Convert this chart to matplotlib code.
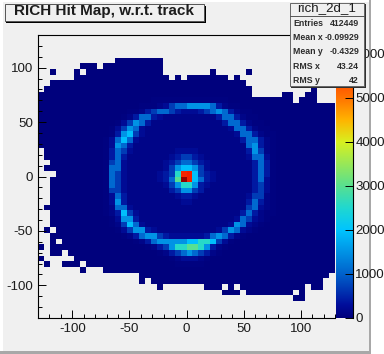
import numpy as np
import matplotlib
matplotlib.use("Agg")
import matplotlib.pyplot as plt
from matplotlib.colors import LinearSegmentedColormap
from matplotlib.patches import Rectangle

plt.rcParams['font.family'] = ['Liberation Sans', 'DejaVu Sans']
plt.rcParams['axes.unicode_minus'] = False

TITLE = "RICH Hit Map, w.r.t. track"
STATS_NAME = "rich_2d_1"
STATS_LABELS = ["Entries", "Mean x", "Mean y", "RMS x", "RMS y"]
STATS_VALUES = ["412449", "-0.09929", "-0.4329", "43.24", "42"]
X_RANGE = [-130, 130]
Y_RANGE = [-130, 130]
Z_MAX = 6430
X_MAJOR = [-100, -50, 0, 50, 100]
Y_MAJOR = [-100, -50, 0, 50, 100]
Z_MAJOR = [0, 1000, 2000, 3000, 4000, 5000, 6000]

# letter -> estimated bin content
LEVELS = dict(zip(".abcdefghijklmno",
                  [0, 15, 50, 120, 230, 400, 680, 1080, 1500, 1950, 2550,
                   3000, 3600, 5700, 5750, 6300]))

# 50 x 50 bins, top row first
ROWS = [
    "", "", "", "",
    "."*13+"a"*8,
    "."*7+"aaa."+"a"*10,
    "..a...a."+"a"*13+"."*8+"a"+"."*5+"a",
    "."*6+"a"*16+".a."+"a"*7+".a",
    ".."+"a"*33,
    "."+"a"*35+"."*10+"a",
    "a"*36+"."*5+"aa..aa",
    "a"*19+"b"*13+"a"*11+".aaa",
    "a"*17+"bbb"+"cdfgghhhhgec"+"bb"+"a"*16,
    "a"*15+"bb"+"cefggfedddefghgecbb"+"a"*14,
    "a"*14+"bceggedccccccccc"+"eggecbb"+"a"*13,
    "a"*13+"bdfhgec"+"c"*11+"e"+"gg"+"ecbb"+"a"*12,
    "a"*12+"bdfhgdc"+"c"*13+"dggecbb"+"a"*11,
    "a"*12+"behifd"+"c"*15+"dggecbb"+"a"*10,
    "a"*11+"bdgigd"+"c"*17+"eggecb"+"a"*10,
    "a"*11+"bdhgec"+"c"*18+"ghecb"+"a"*10,
    "."+"a"*10+"begfd"+"c"*7+"dddd"+"c"*8+"ehfcb"+"a"*10,
    "."+"a"*10+"begec"+"c"*6+"deffed"+"c"*7+"dggdb"+"a"*10,
    ".."+"a"*9+"bfgdc"+"c"*5+"defggfed"+"c"*7+"egeb"+"a"*10,
    "."+"a"*10+"bggdc"+"c"*5+"dfhiihfd"+"c"*7+"egeb"+"a"*10,
    "..."+"a"*8+"bgfdc"+"c"*4+"defjmnifed"+"c"*6+"egeb"+"a"*10,
    ".."+"a"*9+"bgfdc"+"c"*4+"degkoniged"+"c"*6+"egdb"+"a"*10,
    ".."+"a"*9+"bgfdc"+"c"*4+"cdfhjjhedc"+"c"*6+"efdb"+"a"*10,
    ".."+"a"*9+"bffdc"+"c"*6+"efhhfe"+"c"*8+"efdb"+"a"*10,
    ".."+"a"*9+"bdgec"+"c"*7+"deed"+"c"*8+"dffcb"+"a"*10,
    ".."+"a"*9+"bdhec"+"c"*7+"cddc"+"c"*8+"egecb"+"a"*10,
    "."+"a"*10+"bcggd"+"c"*19+"fgdcb"+"a"*10,
    ".."+"a"*9+"bceifd"+"c"*17+"egecbb"+"a"*10,
    ".."+"a"*10+"bdhhec"+"c"*15+"dgfdcb"+"a"*11,
    ".."+"a"*10+"bcfigd"+"c"*14+"dhgdcb"+"a"*12,
    ".a."+"a"*10+"bdfhhed"+"c"*10+"dfhgdcb"+"a"*13,
    ".."+"a"*12+"bceghhfe"+"d"*6+"eghgecb"+"a"*15,
    "..a."+"a"*12+"bceghhhhhiijjifdb"+"a"*17,
    "a."+"a"*16+"bcefhjjkkjhecb"+"a"*18,
    "..aa."+"a"*15+"bcefghgfecb"+"a"*19,
    "a....."+"a"*16+"bcdddcb"+"a"*21,
    ".a..aaa."+"a"*15+"b"*5+"a"*22,
    "."*7+"a..."+"a"*39,
    "."*17+"a"*32,
    "."*17+"a."+"a"*29,
    "."*20+"a"+"."*7+"aaa.a."+"a"*11+".aa",
    "."*31+"aaa."+"a"*8+".a",
    "."*43+"aa",
    "", "", "",
]

counts = np.array([[LEVELS[ch] for ch in row.ljust(50, ".")[:50]] for row in ROWS[::-1]], float)
counts = np.ma.masked_equal(counts, 0)

stops = [(0, "#00007c"), (300, "#000e9c"), (1000, "#0062cc"), (2000, "#00c4ff"),
         (2500, "#20d8d0"), (3000, "#58e090"), (3500, "#98e858"), (4000, "#d8f020"),
         (4500, "#ffb400"), (5000, "#ff7400"), (5600, "#ff3400"), (5950, "#dd0000"),
         (Z_MAX, "#7c0000")]
cmap = LinearSegmentedColormap.from_list("root", [(v / Z_MAX, c) for v, c in stops], N=512)
cmap.set_bad((0, 0, 0, 0))

W, H = 384, 354
fig = plt.figure(figsize=(W / 100, H / 100), dpi=100, facecolor="white")


def box(x0, y0, x1, y1):
    return [x0 / W, 1 - y1 / H, (x1 - x0) / W, (y1 - y0) / H]


TXT = "#1c1c1c"
bg = fig.add_axes([0, 0, 1, 1], zorder=0)
bg.set_xlim(0, W); bg.set_ylim(H, 0); bg.axis("off")
bg.add_patch(Rectangle((3, 2), 366, 349, fc="#f0f0f0", ec="none"))
bg.add_patch(Rectangle((369, 0), 2, 353, fc="#a8a8a8", ec="none"))
bg.add_patch(Rectangle((0, 351), 371, 3, fc="#a8a8a8", ec="none"))

ax = fig.add_axes(box(38, 35, 335, 318), zorder=1, facecolor="none")
xe = np.linspace(X_RANGE[0], X_RANGE[1], 51)
ye = np.linspace(Y_RANGE[0], Y_RANGE[1], 51)
ax.pcolormesh(xe, ye, counts, cmap=cmap, vmin=0, vmax=Z_MAX, antialiased=False, linewidth=0)
ax.set_xlim(X_RANGE); ax.set_ylim(Y_RANGE)
ax.set_xticks(X_MAJOR); ax.set_yticks(Y_MAJOR)
ax.set_xticks(np.arange(-130, 131, 10), minor=True)
ax.set_yticks(np.arange(-130, 131, 10), minor=True)
ax.tick_params(which="major", direction="in", length=5.8, width=0.7, labelsize=9.6,
               labelcolor=TXT, pad=3.5)
ax.tick_params(which="minor", direction="in", length=2.9, width=0.7)
ax.spines["right"].set_visible(False)
for s in ["top", "left", "bottom"]:
    ax.spines[s].set_linewidth(0.8)

cax = fig.add_axes(box(336, 35, 352.5, 318), zorder=1)
cax.imshow(np.linspace(0, Z_MAX, 512)[:, None], origin="lower", aspect="auto",
           extent=[0, 1, 0, Z_MAX], cmap=cmap, vmin=0, vmax=Z_MAX)
cax.set_xticks([])
cax.yaxis.tick_right()
cax.set_yticks(Z_MAJOR)
cax.set_ylim(0, Z_MAX)
cax.tick_params(axis="y", direction="in", length=5.8, width=0.7, labelsize=9.6,
                labelcolor=TXT, pad=2)
for s in ["top", "left", "bottom"]:
    cax.spines[s].set_visible(False)
cax.spines["right"].set_linewidth(0.8)

ov = fig.add_axes([0, 0, 1, 1], zorder=5, facecolor="none")
ov.set_xlim(0, W); ov.set_ylim(H, 0); ov.axis("off")
# title box
ov.add_patch(Rectangle((6, 6), 200, 17, fc="black", ec="none"))
ov.add_patch(Rectangle((4.5, 3.5), 199.5, 17.5, fc="#f0f0f0", ec="#555555", lw=0.7))
ov.text(104.5, 11.5, TITLE, ha="center", va="center", fontsize=11.0, fontweight="bold", color=TXT)
# stats box
ov.add_patch(Rectangle((291, 4), 75, 84, fc="#303030", ec="none"))
ov.add_patch(Rectangle((289.5, 2.5), 74.5, 83.5, fc="#f0f0f0", ec="#666666", lw=0.7))
ov.plot([289.5, 364], [15.5, 15.5], color="#555555", lw=0.7)
ov.text(326.5, 8.5, STATS_NAME, ha="center", va="center", fontsize=9.6, color=TXT)
for i, (label, value) in enumerate(zip(STATS_LABELS, STATS_VALUES)):
    y = 23.3 + i * 14.3
    ov.text(293, y, label, ha="left", va="center", fontsize=6.3, fontweight="bold", color="#2c2c2c")
    ov.text(359, y, value, ha="right", va="center", fontsize=6.3, fontweight="bold", color="#2c2c2c")

fig.savefig("out.png", dpi=100, facecolor="white")
